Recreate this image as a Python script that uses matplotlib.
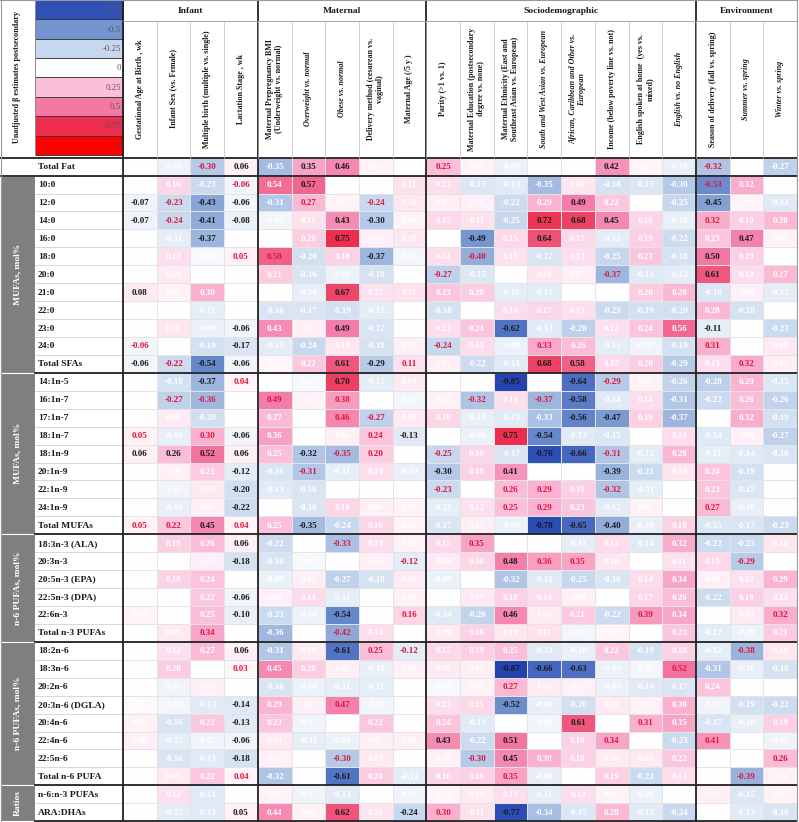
import matplotlib.pyplot as plt
import numpy as np
from matplotlib.colors import LinearSegmentedColormap, Normalize
from matplotlib.patches import Rectangle

plt.rcParams['font.family'] = ['Liberation Serif', 'DejaVu Serif']

# ---- header data ----
categories = ["Infant", "Maternal", "Sociodemographic", "Environment"]
category_sizes = [4, 5, 8, 3]

columns = [
    "Gestational Age at Birth , wk",
    "Infant Sex (vs. Female)",
    "Multiple birth (multiple vs. single)",
    "Lactation Stage , wk",
    "Maternal Prepregnancy BMI\n(Underweight vs. normal)",
    "Overweight vs. normal",
    "Obese vs. normal",
    "Delivery method (cesarean vs.\nvaginal)",
    "Maternal Age (/5 y )",
    "Parity (>1 vs. 1)",
    "Maternal Education (postsecondary\ndegree vs. none)",
    "Maternal Ethnicity (East and\nSoutheast Asian vs. European)",
    "South and West Asian vs. European",
    "African, Caribbean and Other vs.\nEuropean",
    "Income (below poverty line vs. not)",
    "English spoken at home  (yes vs.\nmixed)",
    "English vs. no English",
    "Season of delivery (fall vs. spring)",
    "Summer vs. spring",
    "Winter vs. spring",
]
italic_columns = [5, 6, 12, 13, 16, 18, 19]

legend_values = [-0.75, -0.5, -0.25, 0, 0.25, 0.5, 0.75, 1]
legend_labels = ["-0.75", "-0.5", "-0.25", "0", "0.25", "0.5", "0.75", "1"]
legend_title = "Unadjusted β estimates postsecondary"

# significance codes: '.' = n.s. (white text), 'k' = black bold, 'r' = red bold, '-' = blank
total_fat_rows = ["Total Fat"]
total_fat_vals = [
    [None, -0.08, -0.30, 0.06, -0.35, 0.35, 0.46, 0.05, None, 0.25, 0.05, -0.09, None, None, 0.42, 0.04, -0.10, -0.32, None, -0.27],
]
total_fat_sig = ["-.rk.kk.-r..--k..r-."]

sfa_rows = ["10:0", "12:0", "14:0", "16:0", "18:0", "20:0", "21:0", "22:0", "23:0", "24:0", "Total SFAs"]
sfa_vals = [
    [None, 0.16, -0.23, -0.06, 0.54, 0.57, None, None, 0.11, 0.13, -0.15, -0.13, -0.35, 0.10, -0.18, -0.15, -0.30, -0.53, 0.32, None],
    [-0.07, -0.23, -0.43, -0.06, -0.31, 0.27, 0.05, -0.24, 0.10, 0.07, 0.06, -0.22, 0.29, 0.49, 0.22, None, -0.25, -0.45, 0.04, -0.14],
    [-0.07, -0.24, -0.41, -0.08, -0.06, 0.11, 0.43, -0.30, 0.05, 0.15, 0.11, -0.25, 0.72, 0.68, 0.45, 0.16, -0.10, 0.32, 0.19, 0.28],
    [None, -0.11, -0.37, None, None, 0.20, 0.75, 0.06, 0.10, None, -0.49, 0.15, 0.64, 0.15, -0.12, 0.19, -0.22, 0.23, 0.47, 0.05],
    [None, 0.13, -0.04, 0.05, 0.58, -0.20, 0.18, -0.37, -0.06, 0.14, -0.40, 0.11, -0.17, 0.13, -0.25, 0.23, -0.18, 0.50, 0.19, None],
    [None, 0.08, None, None, 0.21, -0.16, -0.08, -0.18, None, -0.27, -0.15, None, 0.10, 0.07, -0.37, -0.14, -0.12, 0.61, 0.14, 0.27],
    [0.08, 0.05, 0.30, None, None, -0.10, 0.67, 0.12, 0.11, 0.23, 0.20, -0.11, -0.12, None, None, 0.20, 0.28, -0.16, 0.06, -0.12],
    [None, None, -0.11, None, -0.16, -0.17, -0.19, -0.12, None, -0.18, None, 0.14, 0.17, 0.13, -0.23, -0.19, -0.20, 0.28, -0.18, None],
    [None, 0.10, -0.09, -0.06, 0.43, 0.07, 0.49, -0.17, None, 0.13, 0.24, -0.62, -0.13, -0.28, 0.12, 0.24, 0.56, -0.11, None, -0.23],
    [-0.06, None, -0.19, -0.17, -0.12, -0.24, 0.10, -0.18, 0.07, -0.24, 0.14, -0.09, 0.33, 0.26, -0.12, -0.07, -0.19, 0.31, None, 0.09],
    [-0.06, -0.22, -0.54, -0.06, 0.04, 0.22, 0.61, -0.29, 0.11, 0.07, -0.22, -0.14, 0.68, 0.58, 0.15, 0.20, -0.29, 0.13, 0.32, 0.07],
]
sfa_sig = [
    "-..r.k--.........r.-",
    "krkk.r.r.....k.-.k..",
    "krkk..kk....kkk..r..",
    "-.k--.k..-k.k.....k.",
    "-..rr..k..r......k.-",
    "-.--....-r.-..r..k..",
    "k..--.k......--.....",
    "--.-....-.-........-",
    "-..k..k.-..k.....k-.",
    "r-.k.....r..r....r-.",
    "krkk..kkr...kk....r.",
]

mufa_rows = ["14:1n-5", "16:1n-7", "17:1n-7", "18:1n-7", "18:1n-9", "20:1n-9", "22:1n-9", "24:1n-9", "Total MUFAs"]
mufa_vals = [
    [None, -0.18, -0.37, 0.04, None, -0.04, 0.70, -0.12, 0.09, None, None, -0.85, None, -0.64, -0.29, 0.05, -0.26, -0.28, 0.29, -0.15],
    [None, -0.27, -0.36, None, 0.49, 0.05, 0.38, None, -0.06, 0.06, -0.32, 0.13, -0.37, -0.58, -0.14, 0.14, -0.31, -0.22, 0.26, -0.26],
    [None, 0.08, -0.20, None, 0.27, None, 0.46, -0.27, 0.09, 0.16, -0.10, -0.13, -0.33, -0.56, -0.47, 0.19, -0.37, None, 0.32, -0.19],
    [0.05, -0.10, 0.30, -0.06, 0.36, None, 0.06, 0.24, -0.13, None, -0.09, 0.75, -0.54, -0.13, -0.15, None, 0.14, -0.14, 0.06, -0.27],
    [0.06, 0.26, 0.52, 0.06, 0.25, -0.32, -0.35, 0.20, None, -0.25, 0.16, -0.17, -0.76, -0.66, -0.31, -0.12, 0.28, -0.11, -0.14, -0.16],
    [None, 0.06, 0.21, -0.12, -0.16, -0.31, -0.11, 0.13, -0.10, -0.30, 0.18, 0.41, None, None, -0.39, -0.23, 0.10, 0.24, -0.19, None],
    [None, -0.07, 0.09, -0.20, -0.13, -0.16, None, None, None, -0.23, None, 0.26, 0.29, 0.19, -0.32, -0.11, None, 0.23, -0.15, None],
    [None, -0.10, 0.06, -0.22, None, -0.16, 0.16, 0.06, 0.05, -0.11, 0.12, 0.25, 0.29, 0.23, -0.12, 0.05, None, 0.27, -0.10, None],
    [0.05, 0.22, 0.45, 0.04, 0.25, -0.35, -0.24, 0.16, 0.05, -0.17, 0.07, -0.09, -0.78, -0.65, -0.40, -0.10, 0.18, -0.15, -0.17, -0.23],
]
mufa_sig = [
    "-.kr-.k..--k-kr.....",
    "-rr-r.r-..r.rk......",
    "-..-.-rr.....kk..-..",
    "r.rk.-.rk-.kk..-....",
    "kkkk.krr-r..kkr.....",
    "-..k.r...k.k--k....-",
    "-..k..---r-rr.r.-..-",
    "-..k-......rr...-r.-",
    "rrkr.k......kkk.....",
]

n3_rows = ["18:3n-3 (ALA)", "20:3n-3", "20:5n-3 (EPA)", "22:5n-3 (DPA)", "22:6n-3", "Total n-3 PUFAs"]
n3_vals = [
    [None, 0.19, 0.26, 0.06, -0.22, None, -0.33, 0.13, 0.05, 0.15, 0.35, None, None, -0.11, 0.14, -0.14, 0.32, -0.22, -0.23, 0.10],
    [None, None, 0.07, -0.18, -0.16, -0.04, None, 0.06, -0.12, 0.08, 0.16, 0.48, 0.36, 0.35, 0.10, None, 0.11, 0.15, -0.29, None],
    [None, 0.18, 0.24, None, -0.09, 0.07, -0.27, -0.18, 0.08, -0.09, None, -0.32, -0.13, -0.25, -0.16, 0.14, 0.34, 0.06, 0.12, 0.29],
    [None, None, 0.22, -0.06, 0.06, 0.14, -0.11, None, 0.06, None, 0.09, 0.18, 0.14, 0.06, None, 0.17, 0.26, -0.22, 0.19, 0.13],
    [0.04, None, 0.25, -0.10, -0.23, -0.08, -0.54, None, 0.16, -0.14, -0.26, 0.46, 0.08, 0.21, -0.22, 0.39, 0.34, None, 0.08, 0.32],
    [None, 0.09, 0.34, None, -0.36, None, -0.42, 0.14, None, 0.09, 0.18, 0.10, 0.11, -0.06, 0.04, None, 0.23, -0.12, -0.08, 0.21],
]
n3_sig = [
    "-..k.-r...r--.......",
    "--.k..-.r..krr.-..r-",
    "-..-......-.........",
    "--.k...-.-....-.....",
    ".-.k..k-r..k...r.-.r",
    "-.r-.-r.-......-....",
]

n6_rows = ["18:2n-6", "18:3n-6", "20:2n-6", "20:3n-6 (DGLA)", "20:4n-6", "22:4n-6", "22:5n-6", "Total n-6 PUFA"]
n6_vals = [
    [None, 0.12, 0.27, 0.06, -0.31, 0.08, -0.61, 0.25, -0.12, 0.15, 0.19, 0.25, -0.14, -0.10, 0.22, -0.19, 0.18, -0.12, -0.38, 0.10],
    [None, 0.20, None, 0.03, 0.45, 0.20, 0.07, -0.10, 0.06, 0.08, 0.07, -0.87, -0.66, -0.63, -0.09, -0.05, 0.52, -0.31, -0.10, -0.18],
    [None, -0.07, 0.06, None, -0.16, -0.08, -0.11, -0.11, None, -0.04, 0.05, 0.27, 0.08, 0.06, -0.09, -0.14, -0.17, 0.24, None, None],
    [0.03, -0.06, -0.13, -0.14, 0.29, 0.07, 0.47, -0.06, None, 0.13, 0.15, -0.52, -0.10, -0.20, 0.08, 0.06, 0.30, -0.07, -0.19, -0.22],
    [0.05, -0.16, 0.22, -0.13, 0.23, -0.07, None, 0.22, None, 0.24, -0.13, None, -0.06, 0.61, None, 0.31, 0.35, -0.17, -0.10, 0.19],
    [0.06, -0.12, -0.07, -0.06, 0.09, -0.11, -0.09, 0.07, 0.06, 0.43, -0.22, 0.51, None, 0.18, 0.34, None, -0.23, 0.41, None, -0.07],
    [None, -0.16, -0.13, -0.18, 0.06, None, -0.30, 0.09, None, 0.06, -0.30, 0.45, 0.30, 0.18, 0.08, 0.09, 0.22, None, None, 0.26],
    [None, 0.09, 0.22, 0.04, -0.32, None, -0.61, 0.20, -0.11, 0.16, 0.18, 0.35, -0.10, None, 0.19, -0.23, 0.13, None, -0.39, 0.06],
]
n6_sig = [
    "-..k..krr.........r.",
    "-.-r.......kkk..r...",
    "-..-....-..r......--",
    "...k..r.-..k........",
    "...k..-.-..-.k-r....",
    "...k.....k.k-.r-.r-.",
    "-..k.-r.-.rk.....--r",
    "-..r.-k....r.-...-r.",
]

ratio_rows = ["n-6:n-3 PUFAs", "ARA:DHAs"]
ratio_vals = [
    [None, 0.12, -0.14, None, 0.05, -0.07, -0.13, None, -0.07, 0.04, 0.08, 0.13, -0.11, 0.14, 0.05, -0.09, None, 0.06, -0.15, 0.05],
    [None, -0.12, -0.13, 0.05, 0.44, 0.05, 0.62, 0.10, -0.24, 0.30, 0.11, -0.77, -0.34, -0.15, 0.28, -0.13, -0.24, None, -0.13, -0.16],
]
ratio_sig = [
    "-..-...-........-...",
    "-..k..k.kr.k.....-..",
]

groups = [
    (None, total_fat_rows, total_fat_vals, total_fat_sig),
    ("MUFAs, mol%", sfa_rows, sfa_vals, sfa_sig),
    ("MUFAs, mol%", mufa_rows, mufa_vals, mufa_sig),
    ("n-6 PUFAs, mol%", n3_rows, n3_vals, n3_sig),
    ("n-6 PUFAs, mol%", n6_rows, n6_vals, n6_sig),
    ("Ratios", ratio_rows, ratio_vals, ratio_sig),
]

row_labels = [r for g in groups for r in g[1]]
values = [v for g in groups for v in g[2]]
sig = [s for g in groups for s in g[3]]

cmap = LinearSegmentedColormap.from_list("beta", [
    (0.0, "#1a33a3"), (0.125, "#2e50b7"), (0.25, "#7393cf"), (0.375, "#c6d7ee"),
    (0.5, "#ffffff"), (0.625, "#fbc0da"), (0.75, "#f37aa6"), (0.875, "#ec2e50"),
    (1.0, "#ff0000")])
norm = Normalize(-1, 1)

fig = plt.figure(figsize=(7.99, 8.22), dpi=100)
ax = fig.add_axes([0, 0, 1, 1])
ax.set_xlim(0, 799)
ax.set_ylim(822, 0)
ax.axis('off')

X0, X1 = 123, 797
Y0, Y1 = 157.7, 821.2
ncol, nrow = len(columns), len(row_labels)
xe = np.linspace(X0, X1, ncol + 1)
ye = np.linspace(Y0, Y1, nrow + 1)

grid = np.array([[0.0 if v is None else v for v in r] for r in values])
ax.pcolormesh(xe, ye, grid, cmap=cmap, norm=norm, edgecolors='#e4e4e4', linewidth=0.5)

text_colors = {'.': 'white', 'k': '#1a1a1a', 'r': '#e0153a'}
for i in range(nrow):
    for j in range(ncol):
        v = values[i][j]
        if v is None:
            continue
        ax.text((xe[j] + xe[j + 1]) / 2, (ye[i] + ye[i + 1]) / 2 + 0.5, f"{v:.2f}",
                ha='center', va='center', fontsize=6.5, fontweight='bold',
                color=text_colors[sig[i][j]])

# row labels
for i, lab in enumerate(row_labels):
    ax.text(38, (ye[i] + ye[i + 1]) / 2 + 0.5, lab, ha='left', va='center',
            fontsize=6.8, fontweight='bold', color='#1a1a1a')
    ax.plot([35, X0], [ye[i + 1], ye[i + 1]], color='#c8c8c8', lw=0.5)

# group labels on grey band
start = 0
for name, rows, _, _ in groups:
    end = start + len(rows)
    if name is not None:
        ax.add_patch(Rectangle((0, ye[start]), 35, ye[end] - ye[start],
                               facecolor='#7f7f7f', edgecolor='white', lw=0.8))
        ax.text(17.5, (ye[start] + ye[end]) / 2, name, rotation=90, ha='center',
                va='center', color='white', fontsize=6.8, fontweight='bold')
    ax.plot([0 if start == 0 else 35, X1], [ye[end], ye[end]], color='#222222', lw=1.3)
    start = end
ax.plot([0, X1], [Y0, Y0], color='#222222', lw=1.3)

# legend swatches
sw_h = 155 / len(legend_values)
for k, (val, lab) in enumerate(zip(legend_values, legend_labels)):
    ax.add_patch(Rectangle((35, k * sw_h), 88, sw_h, facecolor=cmap(norm(val)),
                           edgecolor='#333333', lw=0.6))
    ax.text(121, k * sw_h + sw_h / 2 + 0.5, lab, ha='right', va='center',
            fontsize=6.3, color='#555555')
ax.text(17.5, 77, legend_title, rotation=90, ha='center', va='center',
        fontsize=5.9, fontweight='bold', color='#1a1a1a')
ax.plot([35, 35], [0, 155], color='#999999', lw=0.6)

# header: categories and columns
pos = 0
for cat, n in zip(categories, category_sizes):
    ax.text((xe[pos] + xe[pos + n]) / 2, 11, cat, ha='center', va='center',
            fontsize=6.8, fontweight='bold', color='#1a1a1a')
    ax.plot([xe[pos], xe[pos]], [0, Y1], color='#222222', lw=1.3)
    pos += n
ax.plot([X1, X1], [0, Y1], color='#999999', lw=0.8)
ax.plot([X0, X1], [21, 21], color='#999999', lw=0.6)
for j in range(1, ncol):
    ax.plot([xe[j], xe[j]], [21, Y0], color='#bbbbbb', lw=0.5)

for j, col in enumerate(columns):
    ax.text((xe[j] + xe[j + 1]) / 2, 89, col, rotation=90, ha='center', va='center',
            multialignment='center', fontsize=5.8, fontweight='bold',
            fontstyle='italic' if j in italic_columns else 'normal',
            color='#1a1a1a', linespacing=1.15)

ax.plot([0, X1], [0.5, 0.5], color='#999999', lw=0.8)
ax.plot([0.5, 0.5], [0, Y1], color='#999999', lw=0.8)

fig.savefig('out.png', dpi=100)
